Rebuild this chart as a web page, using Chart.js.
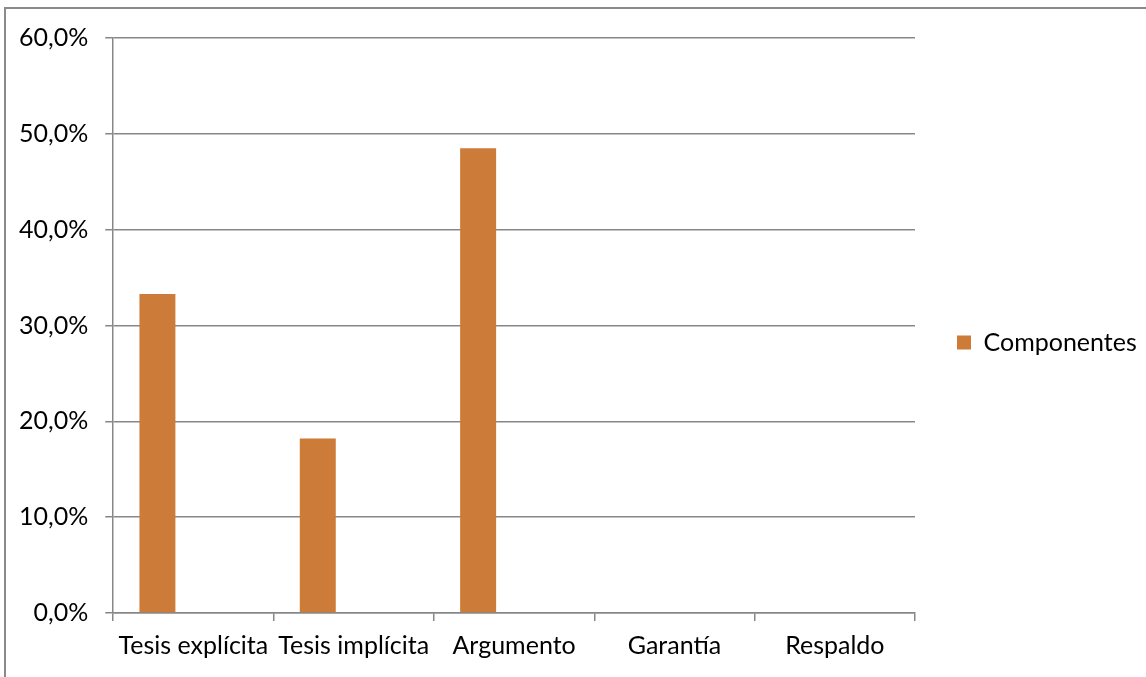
<!DOCTYPE html>
<html>
<head>
<meta charset="utf-8">
<script src="https://cdn.jsdelivr.net/npm/chart.js@4"></script>
<style>
  html, body { margin: 0; padding: 0; background: #fff; }
  #wrap { position: relative; width: 1146px; height: 677px; overflow: hidden; }
  #frame { position: absolute; left: 4px; top: 7px; width: 1200px; height: 700px;
           border-left: 2px solid #8a8a8a; border-top: 2px solid #8a8a8a; }
  #grafico { position: absolute; left: 0; top: 0; }
</style>
</head>
<body>
<div id="wrap">
  <div id="frame"></div>
  <canvas id="grafico" width="1146" height="677"></canvas>
</div>
<script>
// Datos
const categorias = ['Tesis explícita', 'Tesis implícita', 'Argumento', 'Garantía', 'Respaldo'];
const componentes = [0.333, 0.182, 0.485, 0, 0];
// series vacías del gráfico original (reservan el hueco de cada grupo)
const serieVacia2 = [null, null, null, null, null];
const serieVacia3 = [null, null, null, null, null];
const ticksY = [0, 0.1, 0.2, 0.3, 0.4, 0.5, 0.6];

const fuente = { family: 'Lato, "Open Sans", sans-serif', size: 25 };
const colorBarra = '#cc7b39';
const colorLinea = '#878787';

const formatoPct = v => (v * 100).toFixed(1).replace('.', ',') + '%';

// sube un poco la leyenda respecto al centro del lienzo
const ajusteLeyenda = {
    id: 'ajusteLeyenda',
    afterLayout(chart) {
        const l = chart.legend;
        if (!l) return;
        l.top -= 12;
        l.bottom -= 12;
    }
};

new Chart(document.getElementById('grafico'), {
    type: 'bar',
    data: {
        labels: categorias,
        datasets: [
            { label: 'Componentes', data: componentes, backgroundColor: colorBarra },
            { label: '', data: serieVacia2, backgroundColor: colorBarra },
            { label: '', data: serieVacia3, backgroundColor: colorBarra }
        ]
    },
    options: {
        responsive: false,
        animation: false,
        categoryPercentage: 0.673,
        barPercentage: 1,
        layout: { padding: { top: 38, left: 2, right: 0, bottom: 6 } },
        plugins: {
            tooltip: { enabled: false },
            legend: {
                position: 'right',
                maxWidth: 231,
                labels: {
                    filter: item => item.text !== '',
                    boxWidth: 14,
                    boxHeight: 14,
                    padding: 42,
                    color: '#000',
                    font: fuente
                }
            }
        },
        scales: {
            x: {
                grid: { drawOnChartArea: false, drawTicks: true, tickLength: 8, color: colorLinea, lineWidth: 1.5 },
                border: { color: colorLinea, width: 1.5 },
                ticks: { color: '#000', font: fuente, padding: 10, maxRotation: 0, autoSkip: false }
            },
            y: {
                min: 0,
                max: 0.6,
                afterBuildTicks: axis => { axis.ticks = ticksY.map(v => ({ value: v })); },
                grid: { color: colorLinea, lineWidth: 1.5, tickLength: 8 },
                border: { color: colorLinea, width: 1.5 },
                ticks: { color: '#000', font: fuente, padding: 17, callback: formatoPct }
            }
        }
    },
    plugins: [ajusteLeyenda]
});
</script>
</body>
</html>
